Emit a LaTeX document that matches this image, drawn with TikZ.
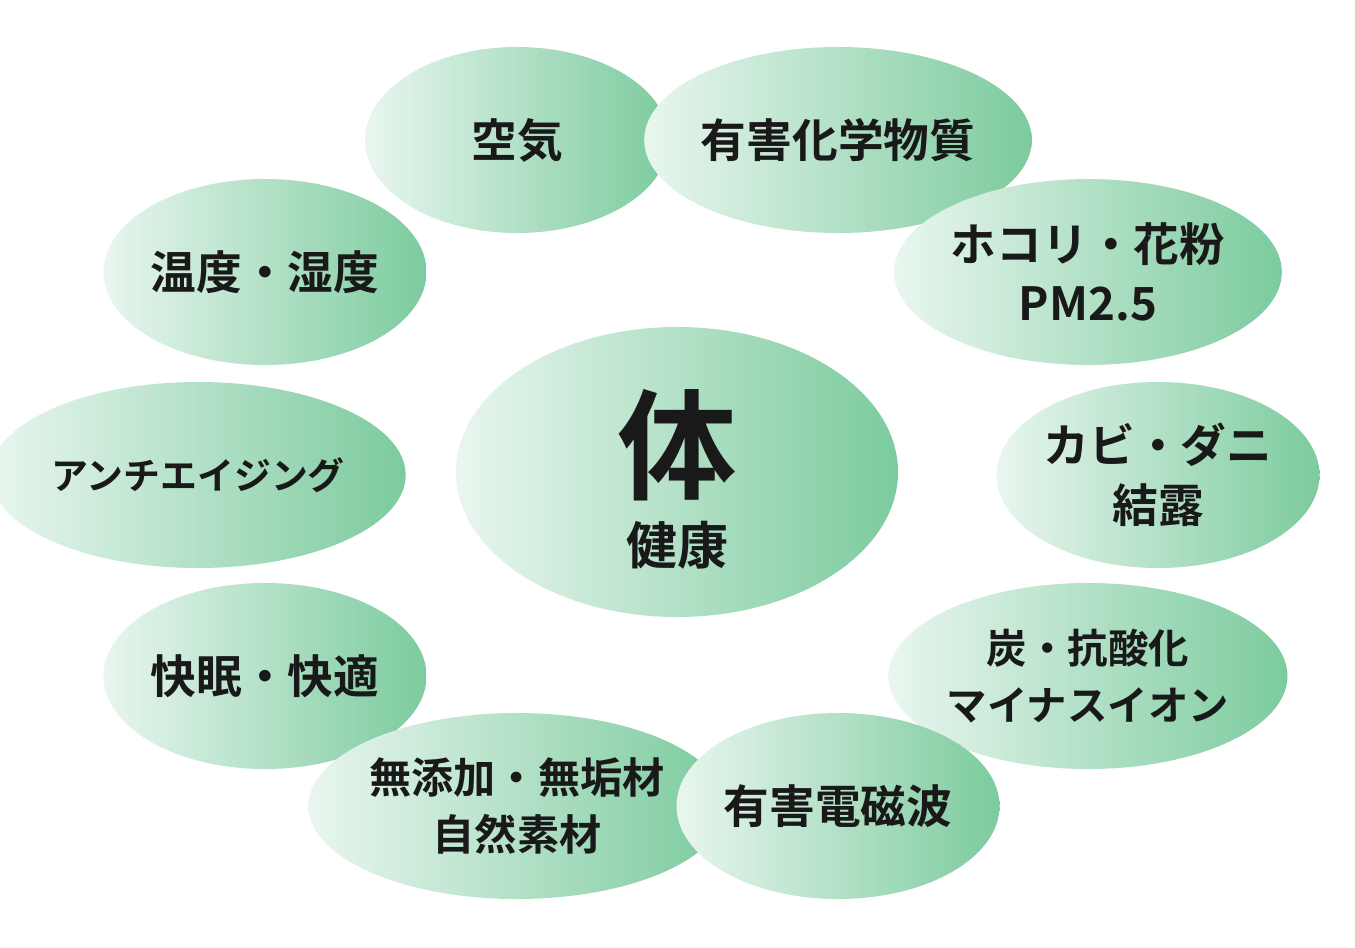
\documentclass[tikz,border=0pt]{standalone}
\usepackage{fontspec}
\setmainfont{Noto Sans CJK JP}[BoldFont={* Bold}]
\usetikzlibrary{shapes.geometric}
\definecolor{gl}{HTML}{E9F6EF}
\definecolor{gr}{HTML}{7CCB9E}
\tikzset{
 bub/.style={ellipse, inner sep=0pt, minimum width=304*0.02cm, minimum height=186*0.02cm, left color=gl, right color=gr, align=center, font=\bfseries\fontsize{26pt}{34pt}\selectfont, text=black!90}
}
\begin{document}
\begin{tikzpicture}[x=0.02cm,y=-0.02cm]
\useasboundingbox[fill=white] (0,0) rectangle (1355,947);
\node[bub] (kuki) at (517,140) {空気};
\node[bub] (yugai) at (838,140) {有害化学物質};
\node[bub] (hokori) at (1088,272) {ホコリ・花粉\\PM2.5};
\node[bub] (ondo) at (265,272) {温度・湿度};
\node[bub, font=\bfseries\fontsize{21pt}{28pt}\selectfont] (anti) at (198,475) {アンチエイジング};
\node[bub] (kabi) at (1158,475) {カビ・ダニ\\結露};
\node[bub] (kaimin) at (265,676) {快眠・快適};
\node[bub, font=\bfseries\fontsize{23pt}{32pt}\selectfont] (sumi) at (1088,676) {炭・抗酸化\\マイナスイオン};
\node[bub, font=\bfseries\fontsize{24pt}{32pt}\selectfont] (mutenka) at (517,806) {無添加・無垢材\\自然素材};
\node[bub] (denji) at (838,806) {有害電磁波};
\node[bub, minimum width=442*0.02cm, minimum height=290*0.02cm] (karada) at (677,472) {};
\node[font=\bfseries\fontsize{68pt}{70pt}\selectfont, text=black!90] (tai) at (677,445) {体};
\node[font=\bfseries\fontsize{29pt}{32pt}\selectfont, text=black!90] (kenko) at (677,545) {健康};
\end{tikzpicture}
\end{document}
